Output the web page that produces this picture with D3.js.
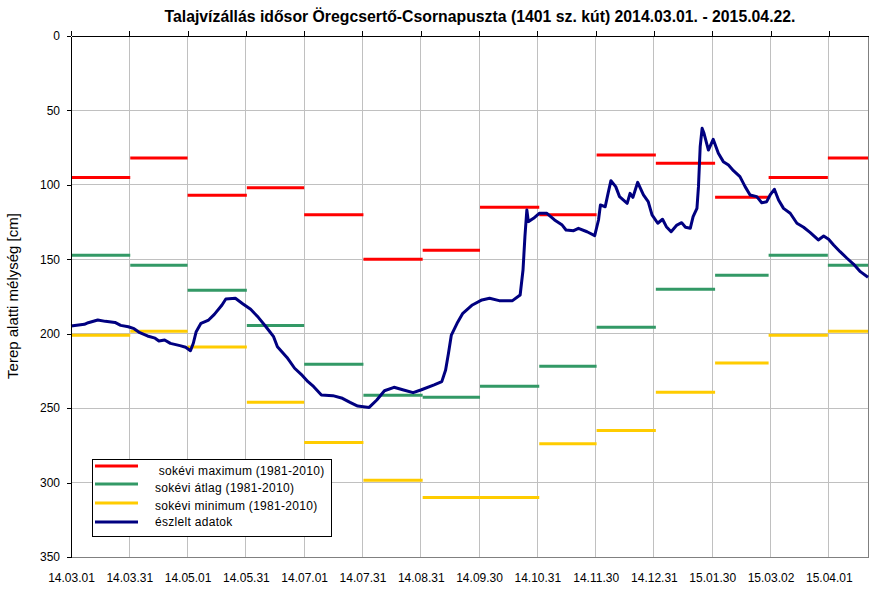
<!DOCTYPE html>
<html>
<head>
<meta charset="utf-8">
<script src="https://cdn.jsdelivr.net/npm/d3@7"></script>
<style>
  body { margin: 0; background: #fff; }
  svg { display: block; font-family: "Liberation Sans", Arial, sans-serif; }
</style>
</head>
<body>
<svg id="chart" width="893" height="592"></svg>
<script>
// ---------- DATA ----------
const startDate = "2014-03-01";
const endDate = "2015-04-22";

const monthStarts = ["2014-03-01","2014-04-01","2014-05-01","2014-06-01","2014-07-01","2014-08-01",
  "2014-09-01","2014-10-01","2014-11-01","2014-12-01","2015-01-01","2015-02-01","2015-03-01","2015-04-01"];

const monthlyMax = [95, 82, 107, 102, 120, 150, 144, 115, 120, 80, 85.5, 108.4, 95, 82];
const monthlyAvg = [147.3, 154, 170.8, 194.4, 220.5, 241.4, 242.7, 235.3, 221.9, 195.7, 170.2, 160.8, 147.3, 154];
const monthlyMin = [201, 198.4, 209, 246, 273, 298.5, 310, 310, 274, 265, 239.4, 219.7, 201, 198.4];

// observed series: days after 2014-03-01, depth below surface [cm]
const obsDay = [0,7,9,14,18,23,26,30,33,36,40,44,46,49,52,57,60,62.5,64,65.5,68,72,75,79,81,86,90,94,98,102,
  106,108,113,117,121,124,127,131,137,142,146,150,156,160,164,169,174,179,183,190,194,196,197.5,199,202,205,210,
  215,219,224,231,235,236.5,237.5,238.5,239.3,242,245,249,253,257,259,263,265.5,270,274,276,277,279.5,281,282.5,
  285,287,291,292.5,294,296.5,299.5,302,304,307,309.5,311.5,314,317,319.5,321.5,324,325.5,327.5,328.3,329.2,
  330.2,331.2,333.5,336,338.7,341.3,344,346.6,350,352.7,355.3,358.8,361.4,364,365.8,368,370.2,372.8,376.3,
  379.8,383.3,386.8,391,393.8,396.4,399,402.4,406,409.4,413,417];
const obsDepth = [194.8,193.7,192.6,190.8,191.7,192.4,194.4,195.3,196.6,199.3,201.5,203,204.9,204.2,206.5,208,
  209.1,211.4,206.4,198.6,193,190.8,187,180.7,176.7,176.2,180,183.6,189,195.3,202,208.7,215.9,223.2,228,232.2,
  235.6,241.2,241.6,243.4,246.1,248.6,249.5,244.5,238.3,236,237.8,239.6,237.8,234.4,232.2,224.4,213.2,200.9,193,
  186.3,180.7,177.3,176.2,177.8,177.8,174,157.2,134.8,116.9,124.7,122.5,119.1,119.1,123.6,127,130.3,130.8,129.2,
  131.5,134.1,123.6,113.5,114.7,105.7,97.2,101.2,107.9,112.4,105.7,108.4,98.3,106.8,111.3,120.2,125.8,123.1,
  128.1,131.5,127,125.4,128.5,129.2,121.4,115.8,101.2,74.3,62,65.4,76.6,69.4,78.8,84.4,86.7,90.5,94.5,101.2,
  106.8,107.9,112,111.3,106.8,103,110.2,115.8,119.1,125.8,128.5,132.1,137,134.4,136.6,140.4,144.9,149.3,153.2,
  158.3,162.1];

const xTickDates = ["2014-03-01T00:00Z","2014-03-31T12:00Z","2014-05-01T00:00Z","2014-05-31T12:00Z",
  "2014-07-01T00:00Z","2014-07-31T12:00Z","2014-08-31T00:00Z","2014-09-30T12:00Z","2014-10-31T00:00Z",
  "2014-11-30T12:00Z","2014-12-31T00:00Z","2015-01-30T12:00Z","2015-03-02T00:00Z","2015-04-01T12:00Z"];
const xTickLabels = ["14.03.01","14.03.31","14.05.01","14.05.31","14.07.01","14.07.31","14.08.31",
  "14.09.30","14.10.31","14.11.30","14.12.31","15.01.30","15.03.02","15.04.01"];
const yTicks = [0, 50, 100, 150, 200, 250, 300, 350];

const titleText = "Talajvízállás idősor Öregcsertő-Csornapuszta (1401 sz. kút) 2014.03.01. - 2015.04.22.";
const yLabel = "Terep alatti mélység [cm]";
const legendLabels = [" sokévi maximum (1981-2010)", "sokévi átlag (1981-2010)", "sokévi minimum (1981-2010)", "észlelt adatok"];
const colors = { max: "#FF0000", avg: "#339966", min: "#FFCC00", obs: "#000080" };

// ---------- CHART ----------
const svg = d3.select("#chart");
const m = { left: 71, top: 36 };
const iw = 868 - m.left, ih = 557 - m.top;
const g = svg.append("g").attr("transform", `translate(${m.left},${m.top})`);

const parse = s => new Date(s.length === 10 ? s + "T00:00Z" : s);
const t0 = parse(startDate), t1 = parse(endDate);
const x = d3.scaleUtc().domain([t0, t1]).range([0, iw]);
const y = d3.scaleLinear().domain([0, 350]).range([0, ih]);

const tickDates = xTickDates.map(parse);

// gridlines
g.append("g").selectAll("line").data(yTicks.slice(1, -1)).join("line")
  .attr("x1", 0).attr("x2", iw).attr("y1", d => y(d)).attr("y2", d => y(d))
  .attr("stroke", "#C0C0C0").attr("stroke-width", 1).attr("shape-rendering", "crispEdges");
g.append("g").selectAll("line").data(tickDates.slice(1)).join("line")
  .attr("x1", d => x(d)).attr("x2", d => x(d)).attr("y1", 0).attr("y2", ih)
  .attr("stroke", "#C0C0C0").attr("stroke-width", 1).attr("shape-rendering", "crispEdges");

// plot border (bottom/right grey)
g.append("path").attr("d", `M0,${ih}H${iw}V0`).attr("fill", "none")
  .attr("stroke", "#808080").attr("stroke-width", 1).attr("shape-rendering", "crispEdges");

// monthly segments
const ends = monthStarts.slice(1).concat([endDate]);
const segs = (vals, key) => monthStarts.map((s, i) => ({ a: parse(s), b: parse(ends[i]), v: vals[i], key }));
const allSegs = [...segs(monthlyMax, "max"), ...segs(monthlyAvg, "avg"), ...segs(monthlyMin, "min")];
g.append("g").selectAll("line").data(allSegs).join("line")
  .attr("x1", d => x(d.a)).attr("x2", d => x(d.b))
  .attr("y1", d => y(d.v)).attr("y2", d => y(d.v))
  .attr("stroke", d => colors[d.key]).attr("stroke-width", 3);

// observed line
const obs = obsDay.map((d, i) => ({ t: new Date(t0.getTime() + d * 864e5), v: obsDepth[i] }));
g.append("path").datum(obs)
  .attr("fill", "none").attr("stroke", colors.obs).attr("stroke-width", 3)
  .attr("stroke-linejoin", "round")
  .attr("d", d3.line().x(d => x(d.t)).y(d => y(d.v)));

// x axis at top (ticks upward, no labels)
const xTop = g.append("g").call(d3.axisTop(x).tickValues(tickDates).tickSizeInner(5).tickSizeOuter(0).tickFormat(""));
xTop.selectAll("path, line").attr("stroke", "#000").attr("shape-rendering", "crispEdges");

// x labels at bottom
const xBot = g.append("g").attr("transform", `translate(0,${ih})`)
  .call(d3.axisBottom(x).tickValues(tickDates).tickSize(0).tickPadding(16)
    .tickFormat((d, i) => xTickLabels[i]));
xBot.select(".domain").remove();
xBot.selectAll("text").attr("font-size", 12).attr("fill", "#000")
  .attr("font-family", "Liberation Sans, Arial, sans-serif");

// y axis
const yAx = g.append("g").call(d3.axisLeft(y).tickValues(yTicks).tickSizeInner(4).tickSizeOuter(0).tickPadding(7));
yAx.selectAll("path, line").attr("stroke", "#000").attr("shape-rendering", "crispEdges");
yAx.selectAll("text").attr("font-size", 12).attr("fill", "#000")
  .attr("font-family", "Liberation Sans, Arial, sans-serif");

// title
svg.append("text").attr("x", 480).attr("y", 22).attr("text-anchor", "middle")
  .attr("font-size", 15.8).attr("font-weight", "bold").text(titleText);

// y label
svg.append("text").attr("transform", `translate(18,296) rotate(-90)`).attr("text-anchor", "middle")
  .attr("font-size", 15).text(yLabel);

// legend
const lg = svg.append("g");
lg.append("rect").attr("x", 92.5).attr("y", 459.5).attr("width", 239).attr("height", 77)
  .attr("fill", "#fff").attr("stroke", "#000").attr("stroke-width", 1);
const legendKeys = ["max", "avg", "min", "obs"];
const lineY = [466, 484, 503, 522];
const textY = [475, 492, 509.5, 526];
legendKeys.forEach((k, i) => {
  lg.append("line").attr("x1", 95).attr("x2", 138).attr("y1", lineY[i]).attr("y2", lineY[i])
    .attr("stroke", colors[k]).attr("stroke-width", 3);
  lg.append("text").attr("x", 155).attr("y", textY[i]).attr("font-size", 12)
    .attr("letter-spacing", 0.3)
    .style("white-space", "pre").text(legendLabels[i]);
});
</script>
</body>
</html>
